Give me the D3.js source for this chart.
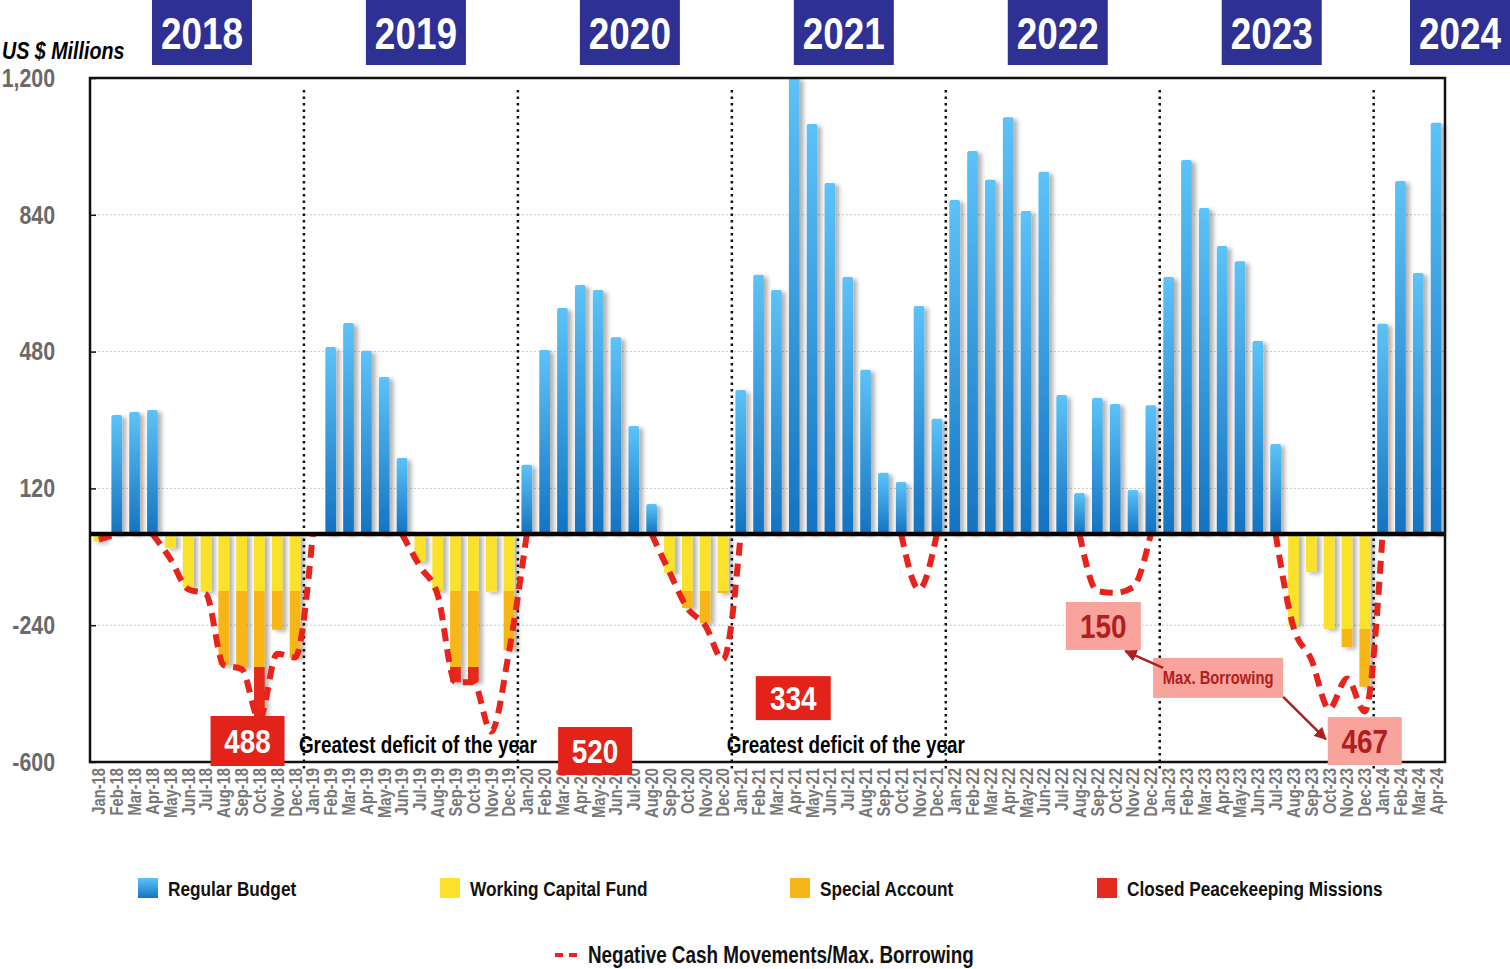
<!DOCTYPE html>
<html>
<head>
<meta charset="utf-8">
<script src="https://cdn.jsdelivr.net/npm/d3@7"></script>
<style>
  body { margin: 0; background: #fff; }
  svg { display: block; font-family: "Liberation Sans", Arial, sans-serif; font-weight: bold; }
</style>
</head>
<body>
<script>
// ---- data (US $ millions) ----
const monthNames = ["Jan","Feb","Mar","Apr","May","Jun","Jul","Aug","Sep","Oct","Nov","Dec"];
const years = ["2018","2019","2020","2021","2022","2023","2024"];
const yTicks = [1200, 840, 480, 120, -240, -600];

const regularBudget = [
  0, 313, 321, 326, 0, 0, 0, 0, 0, 0, 0, 0,
  0, 492, 555, 482, 413, 200, 0, 0, 0, 0, 0, 0,
  182, 484, 595, 655, 642, 518, 284, 79, 0, 0, 0, 0,
  379, 682, 642, 1200, 1079, 924, 676, 432, 161, 137, 600, 303,
  879, 1008, 932, 1097, 850, 953, 366, 108, 358, 342, 116, 339,
  676, 984, 858, 758, 718, 508, 237, 0, 0, 0, 0, 0,
  553, 929, 687, 1082
];
const workingCapitalFund = [
  20, 0, 0, 0, 37, 140, 152, 150, 150, 150, 150, 150,
  0, 0, 0, 0, 0, 0, 73, 150, 150, 150, 152, 150,
  0, 0, 0, 0, 0, 0, 0, 0, 103, 150, 150, 150,
  0, 0, 0, 0, 0, 0, 0, 0, 0, 0, 0, 0,
  0, 0, 0, 0, 0, 0, 0, 0, 0, 0, 0, 0,
  0, 0, 0, 0, 0, 0, 0, 240, 100, 250, 250, 250,
  0, 0, 0, 0
];
const specialAccount = [
  0, 0, 0, 0, 0, 0, 0, 195, 202, 200, 102, 176,
  0, 0, 0, 0, 0, 0, 0, 0, 200, 200, 0, 155,
  0, 0, 0, 0, 0, 0, 0, 0, 0, 45, 84, 5,
  0, 0, 0, 0, 0, 0, 0, 0, 0, 0, 0, 0,
  0, 0, 0, 0, 0, 0, 0, 0, 0, 0, 0, 0,
  0, 0, 0, 0, 0, 0, 0, 0, 0, 0, 48, 152,
  0, 0, 0, 0
];
const closedMissions = [
  0, 0, 0, 0, 0, 0, 0, 0, 0, 138, 0, 0,
  0, 0, 0, 0, 0, 0, 0, 0, 40, 40, 0, 0,
  0, 0, 0, 0, 0, 0, 0, 0, 0, 0, 0, 0,
  0, 0, 0, 0, 0, 0, 0, 0, 0, 0, 0, 0,
  0, 0, 0, 0, 0, 0, 0, 0, 0, 0, 0, 0,
  0, 0, 0, 0, 0, 0, 0, 0, 0, 0, 0, 0,
  0, 0, 0, 0
];
const cashMovements = [
  -15, 0, null, 0, -65, -145, -158, -345, -355, -488, -315, -325,
  0, null, null, null, null, 0, -85, -160, -390, -390, -520, -310,
  0, null, null, null, null, null, null, 0, -100, -195, -240, -330,
  0, null, null, null, null, null, null, null, null, 0, -145, 0,
  null, null, null, null, null, null, null, 0, -150, -155, -140, 0,
  null, null, null, null, null, null, 0, -245, -330, -460, -380, -467,
  0, null, null, null
];

const categories = [];
years.forEach(yr => monthNames.forEach(mn => categories.push(mn + "-" + yr.slice(2))));
categories.length = regularBudget.length;

const seriesNames = ["Regular Budget", "Working Capital Fund", "Special Account", "Closed Peacekeeping Missions"];
const lineName = "Negative Cash Movements/Max. Borrowing";

// ---- layout ----
const W = 1510, H = 969;
const plotL = 90, plotR = 1445, plotT = 78, plotB = 762;
const colors = { wcf: "#fbe22b", sa: "#f7b519", cpm: "#e52a1e" };
const navy = "#2e3093", red = "#e32219", pink = "#f8a39c", darkRed = "#b01e1e";

const svg = d3.select("body").append("svg").attr("width", W).attr("height", H);
const defs = svg.append("defs");

const grad = defs.append("linearGradient").attr("id", "blueGrad")
  .attr("x1", 0).attr("y1", 0).attr("x2", 0).attr("y2", 1);
grad.append("stop").attr("offset", "0%").attr("stop-color", "#5cc3f8");
grad.append("stop").attr("offset", "100%").attr("stop-color", "#1473c2");

defs.append("filter").attr("id", "shadow")
  .attr("x", "-50%").attr("y", "-10%").attr("width", "200%").attr("height", "130%")
  .append("feDropShadow").attr("dx", 4).attr("dy", 2).attr("stdDeviation", 2)
  .attr("flood-color", "#000").attr("flood-opacity", 0.3);

defs.append("marker").attr("id", "arrow")
  .attr("viewBox", "0 0 10 10").attr("refX", 9).attr("refY", 5)
  .attr("markerWidth", 5).attr("markerHeight", 5).attr("orient", "auto")
  .append("path").attr("d", "M0,0L10,5L0,10z").attr("fill", darkRed);

const x = d3.scaleBand().domain(categories).range([plotL, plotR])
  .paddingInner(0.4).paddingOuter(0.2);
const y = d3.scaleLinear().domain([-600, 1200]).range([plotB, plotT]);
const step = x.step();

// gridlines
svg.append("g").selectAll("line")
  .data(yTicks.slice(1, -1))
  .enter().append("line")
  .attr("x1", plotL).attr("x2", plotR)
  .attr("y1", d => y(d)).attr("y2", d => y(d))
  .attr("stroke", "#c8c8c8").attr("stroke-width", 1).attr("stroke-dasharray", "2,2");

// stacked bars
const table = categories.map((c, i) => ({
  month: c,
  rb: regularBudget[i],
  wcf: -workingCapitalFund[i],
  sa: -specialAccount[i],
  cpm: -closedMissions[i]
}));
const stacked = d3.stack().keys(["rb", "wcf", "sa", "cpm"])
  .offset(d3.stackOffsetDiverging)(table);

const barG = svg.append("g").attr("filter", "url(#shadow)");
stacked.forEach(s => {
  barG.append("g")
    .attr("fill", s.key === "rb" ? "url(#blueGrad)" : colors[s.key])
    .selectAll("rect")
    .data(s.filter(d => d[1] !== d[0]))
    .enter().append("rect")
    .attr("x", d => x(d.data.month))
    .attr("width", x.bandwidth())
    .attr("y", d => y(d[1]))
    .attr("height", d => y(d[0]) - y(d[1]))
    .attr("rx", s.key === "rb" ? 2 : 0);
});

// year dividers
svg.append("g").selectAll("line")
  .data(years.slice(1))
  .enter().append("line")
  .attr("x1", (d, i) => x(categories[(i + 1) * 12]) - step * 0.2)
  .attr("x2", (d, i) => x(categories[(i + 1) * 12]) - step * 0.2)
  .attr("y1", 90).attr("y2", 772)
  .attr("stroke", "#111").attr("stroke-width", 2.5)
  .attr("stroke-dasharray", "2.5,4");

// negative cash line
const line = d3.line()
  .defined(d => d !== null)
  .x((d, i) => x(categories[i]) + x.bandwidth() / 2)
  .y(d => y(d))
  .curve(d3.curveMonotoneX);
svg.append("path")
  .datum(cashMovements)
  .attr("d", line)
  .attr("fill", "none")
  .attr("stroke", "#e8231b")
  .attr("stroke-width", 6)
  .attr("stroke-dasharray", "13,8");

// zero line and frame
svg.append("line")
  .attr("x1", plotL).attr("x2", plotR)
  .attr("y1", y(0)).attr("y2", y(0))
  .attr("stroke", "#000").attr("stroke-width", 4.5);
svg.append("rect")
  .attr("x", plotL).attr("y", plotT)
  .attr("width", plotR - plotL).attr("height", plotB - plotT)
  .attr("fill", "none").attr("stroke", "#111").attr("stroke-width", 2.5);

// y axis
const yAxis = d3.axisLeft(y)
  .tickValues(yTicks)
  .tickSize(-6)
  .tickPadding(35)
  .tickFormat(d => (d < 0 ? "-" : "") + d3.format(",")(Math.abs(d)));
const yg = svg.append("g").attr("transform", "translate(" + plotL + ",0)").call(yAxis)
  .attr("font-family", null).attr("font-size", 26);
yg.select(".domain").remove();
yg.selectAll("line").attr("stroke", "#111").attr("stroke-width", 1.5);
yg.selectAll("text").attr("fill", "#6a6a6a");

// x axis
const xg = svg.append("g").attr("transform", "translate(0," + plotB + ")")
  .call(d3.axisBottom(x).tickSize(0))
  .attr("font-family", null).attr("font-size", 18);
xg.select(".domain").remove();
xg.selectAll("text")
  .attr("transform", "rotate(-90)")
  .attr("text-anchor", "end")
  .attr("x", -6).attr("y", 0).attr("dy", "0.36em")
  .attr("fill", "#777");

// unit label
svg.append("text")
  .attr("x", 2).attr("y", 59)
  .attr("font-size", 24).attr("font-style", "italic").attr("fill", "#000")
  .text("US $ Millions");

// year header boxes
const yearG = svg.append("g").selectAll("g")
  .data(years)
  .enter().append("g")
  .attr("transform", (d, i) => {
    const cx = plotL + step * (12 * i + 6) + 5;
    return "translate(" + Math.min(cx - 50, W - 100) + ",0)";
  });
yearG.append("rect").attr("width", 100).attr("height", 65).attr("fill", navy);
yearG.append("text")
  .attr("x", 50).attr("y", 49)
  .attr("text-anchor", "middle").attr("font-size", 45).attr("fill", "#fff")
  .text(d => d);

// annotation boxes
const notes = [
  { t: "488", month: "Sep-18", dx: 6, v: -479, w: 74, h: 50, fill: red, color: "#fff", size: 34 },
  { t: "520", month: "May-20", dx: -3, v: -508, w: 74, h: 48, fill: red, color: "#fff", size: 34 },
  { t: "334", month: "Apr-21", dx: -1, v: -374, w: 75, h: 44, fill: red, color: "#fff", size: 34 },
  { t: "150", month: "Sep-22", dx: 6, v: -179, w: 75, h: 48, fill: pink, color: darkRed, size: 34 },
  { t: "Max. Borrowing", month: "Apr-23", dx: -4, v: -326, w: 130, h: 40, fill: pink, color: darkRed, size: 18 },
  { t: "467", month: "Dec-23", dx: 0, v: -482, w: 74, h: 48, fill: pink, color: darkRed, size: 34 }
];
notes.forEach(n => {
  n.cx = x(n.month) + x.bandwidth() / 2 + n.dx;
  n.x0 = n.cx - n.w / 2;
  n.y0 = y(n.v);
});
const noteG = svg.append("g").selectAll("g")
  .data(notes)
  .enter().append("g")
  .attr("transform", d => "translate(" + d.x0 + "," + d.y0 + ")");
noteG.append("rect").attr("width", d => d.w).attr("height", d => d.h).attr("fill", d => d.fill);
noteG.append("text")
  .attr("x", d => d.w / 2).attr("y", d => d.h / 2)
  .attr("dy", "0.36em").attr("text-anchor", "middle")
  .attr("font-size", d => d.size).attr("fill", d => d.color)
  .text(d => d.t);

// arrows from "Max. Borrowing"
const mb = notes[4], b150 = notes[3], b467 = notes[5];
const arrows = [
  [mb.x0 + 10, mb.y0 + 10, b150.cx + 22, b150.y0 + b150.h + 1],
  [mb.x0 + mb.w, mb.y0 + mb.h - 1, b467.x0 - 2, b467.y0 + 22]
];
svg.append("g").selectAll("line")
  .data(arrows)
  .enter().append("line")
  .attr("x1", d => d[0]).attr("y1", d => d[1])
  .attr("x2", d => d[2]).attr("y2", d => d[3])
  .attr("stroke", darkRed).attr("stroke-width", 2.5)
  .attr("marker-end", "url(#arrow)");

// "Greatest deficit of the year"
svg.append("g").selectAll("text")
  .data(["Jan-19", "Jan-21"])
  .enter().append("text")
  .attr("x", d => x(d) - step * 0.2 - 5)
  .attr("y", y(-576))
  .attr("font-size", 23).attr("fill", "#000")
  .text("Greatest deficit of the year");

// legend
const legendX = [138, 440, 790, 1097];
const legendFill = ["url(#blueGrad)", colors.wcf, colors.sa, colors.cpm];
const leg = svg.append("g").selectAll("g")
  .data(seriesNames)
  .enter().append("g")
  .attr("transform", (d, i) => "translate(" + legendX[i] + ",878)");
leg.append("rect").attr("width", 20).attr("height", 20).attr("fill", (d, i) => legendFill[i]);
leg.append("text").attr("x", 30).attr("y", 18).attr("font-size", 21).attr("fill", "#111").text(d => d);

const leg2 = svg.append("g").attr("transform", "translate(555,955)");
leg2.append("line").attr("x1", 0).attr("x2", 24).attr("y1", 0).attr("y2", 0)
  .attr("stroke", "#e8231b").attr("stroke-width", 4).attr("stroke-dasharray", "8,6");
leg2.append("text").attr("x", 33).attr("y", 8).attr("font-size", 23).attr("fill", "#111").text(lineName);

// condensed lettering like the original
svg.selectAll("text").each(function () {
  const w = this.getComputedTextLength();
  d3.select(this).attr("textLength", w * 0.82).attr("lengthAdjust", "spacingAndGlyphs");
});
</script>
</body>
</html>
